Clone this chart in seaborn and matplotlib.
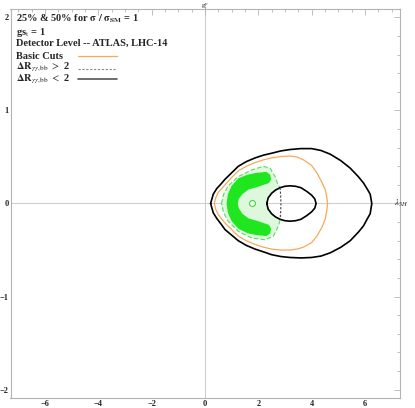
import numpy as np
import pandas as pd
import matplotlib.pyplot as plt
import seaborn as sns

# contour traces (lambda_3H on x, g on y)
outer_x = [0.21, 0.31, 0.44, 0.60, 0.75, 1.00, 1.25, 1.55, 1.88, 2.20, 2.50, 2.85, 3.19, 3.60, 4.00,
           4.35, 4.70, 5.10, 5.45, 5.75, 5.95, 6.10, 6.20, 6.26,
           6.20, 6.10, 5.95, 5.75, 5.45, 5.10, 4.70, 4.35, 4.00, 3.60, 3.19, 2.85, 2.50, 2.20,
           1.88, 1.55, 1.25, 1.00, 0.75, 0.60, 0.44, 0.31]
outer_y = [0.00, 0.10, 0.16, 0.21, 0.26, 0.33, 0.40, 0.45, 0.49, 0.52, 0.54, 0.565, 0.58, 0.59, 0.59,
           0.57, 0.53, 0.46, 0.38, 0.29, 0.22, 0.15, 0.10, 0.00,
           -0.11, -0.16, -0.24, -0.31, -0.40, -0.47, -0.53, -0.565, -0.58, -0.585, -0.58, -0.57,
           -0.55, -0.52, -0.49, -0.45, -0.40, -0.34, -0.28, -0.22, -0.16, -0.10]

basic_x = [0.35, 0.40, 0.50, 0.75, 1.00, 1.25, 1.55, 1.88, 2.20, 2.50, 2.85, 3.19, 3.45, 3.69, 4.00,
           4.20, 4.40, 4.51, 4.57, 4.60,
           4.57, 4.51, 4.40, 4.20, 4.00, 3.69, 3.45, 3.19, 2.85, 2.50, 2.20, 1.88, 1.55, 1.25,
           1.00, 0.75, 0.50, 0.40]
basic_y = [0.00, 0.06, 0.12, 0.20, 0.28, 0.35, 0.40, 0.44, 0.47, 0.49, 0.505, 0.51, 0.50, 0.47, 0.41,
           0.33, 0.22, 0.15, 0.07, 0.00,
           -0.08, -0.17, -0.25, -0.35, -0.42, -0.47, -0.49, -0.50, -0.50, -0.49, -0.47, -0.44,
           -0.40, -0.35, -0.28, -0.21, -0.12, -0.06]

inner_x = [2.32, 2.37, 2.50, 2.65, 2.82, 3.00, 3.19, 3.40, 3.60, 3.82, 4.00, 4.12, 4.17,
           4.12, 4.00, 3.82, 3.60, 3.40, 3.19, 3.00, 2.82, 2.65, 2.50, 2.37]
inner_y = [0.00, 0.06, 0.11, 0.145, 0.17, 0.185, 0.19, 0.185, 0.17, 0.13, 0.09, 0.05, 0.00,
           -0.05, -0.09, -0.13, -0.17, -0.185, -0.19, -0.185, -0.17, -0.145, -0.11, -0.06]

dr_gt2_x = [2.82, 2.84, 2.85, 2.84, 2.82]
dr_gt2_y = [0.17, 0.08, 0.00, -0.09, -0.17]

band50_x = [0.62, 0.70, 0.87, 1.25, 1.75, 2.19, 2.44, 2.63, 2.73, 2.82, 2.65, 2.50, 2.37, 2.32,
            2.37, 2.50, 2.65, 2.82,
            2.78, 2.69, 2.57, 2.25, 1.75, 1.25, 0.87, 0.70]
band50_y = [0.00, 0.10, 0.19, 0.29, 0.36, 0.40, 0.38, 0.29, 0.21, 0.17, 0.145, 0.11, 0.06, 0.00,
            -0.06, -0.11, -0.145, -0.17,
            -0.22, -0.28, -0.35, -0.39, -0.37, -0.30, -0.19, -0.10]

band25_x = [0.81, 0.86, 1.00, 1.25, 1.60, 1.95, 2.30, 2.45, 2.48, 2.40, 2.00, 1.63, 1.40, 1.27, 1.23,
            1.27, 1.40, 1.63, 2.00, 2.40, 2.48, 2.45, 2.30, 1.95, 1.60, 1.25, 1.00, 0.86]
band25_y = [0.00, 0.10, 0.19, 0.27, 0.31, 0.33, 0.34, 0.31, 0.26, 0.22, 0.18, 0.15, 0.10, 0.05, 0.00,
            -0.05, -0.11, -0.16, -0.19, -0.23, -0.27, -0.32, -0.35, -0.34, -0.32, -0.27, -0.19, -0.10]

hole_x = [1.76]
hole_y = [0.0]

x_ticks = [-6, -4, -2, 0, 2, 4, 6]
y_ticks = [-2, -1, 0, 1, 2]


def closed(xs, ys):
    return pd.DataFrame({"x": list(xs) + [xs[0]], "y": list(ys) + [ys[0]]})


sns.set_style("white")
plt.rcParams["font.family"] = ["Liberation Serif", "DejaVu Serif"]
plt.rcParams["mathtext.fontset"] = "stix"

fig = plt.figure(figsize=(4.15, 4.08), dpi=100)
ax = fig.add_axes([10.5 / 415, 10 / 408, 389 / 415, 389 / 408])

ORANGE = "#F6A95A"
frame_gray = "#B4B4B4"

ax.axhline(0, color="#CFCFCF", lw=0.8, zorder=0)
ax.axvline(0, color="#CFCFCF", lw=0.8, zorder=0)

# filled regions
ax.fill(band50_x, band50_y, facecolor="#DDF8DD", edgecolor="#5CDB5C", lw=0.8, ls=(0, (4, 2)), zorder=1)
ax.fill(band25_x, band25_y, facecolor="#1FE61F", edgecolor="none", zorder=2)
sns.scatterplot(x=hole_x, y=hole_y, ax=ax, s=18, color="white", edgecolor="#3BD83B", linewidth=0.8, zorder=3)

# contour lines
d = closed(outer_x, outer_y)
sns.lineplot(data=d, x="x", y="y", sort=False, estimator=None, ax=ax, color="black", lw=1.2, zorder=4)
d = closed(inner_x, inner_y)
sns.lineplot(data=d, x="x", y="y", sort=False, estimator=None, ax=ax, color="black", lw=1.2, zorder=4)
d = closed(basic_x, basic_y)
sns.lineplot(data=d, x="x", y="y", sort=False, estimator=None, ax=ax, color=ORANGE, lw=0.9, zorder=4)
sns.lineplot(x=dr_gt2_x, y=dr_gt2_y, sort=False, estimator=None, ax=ax, color="#444444", lw=0.8,
             ls=(0, (2, 1.5)), zorder=4)

ax.set_xlim(-7.3, 7.3)
ax.set_ylim(-2.09, 2.09)
ax.set_xlabel("")
ax.set_ylabel("")

ax.set_xticks(x_ticks)
ax.set_yticks(y_ticks)
ax.set_xticks(np.arange(-7, 7.5, 0.5), minor=True)
ax.set_yticks(np.arange(-2, 2.1, 0.2), minor=True)
ax.set_xticklabels([str(t).replace("-", "\u2212") for t in x_ticks], fontsize=6, fontweight="bold")
ax.set_yticklabels([str(t).replace("-", "\u2212") for t in y_ticks], fontsize=6, fontweight="bold")
ax.tick_params(which="both", direction="in", color=frame_gray, top=True, right=True,
               labeltop=False, labelright=False, width=0.6)
ax.tick_params(which="major", length=4, pad=1.5)
ax.tick_params(which="minor", length=2)
for s in ax.spines.values():
    s.set_color(frame_gray)
    s.set_linewidth(0.8)

# axis labels Mathematica-style
ax.text(0.0, 2.115, r"g$^{p}_{t}$", fontsize=5, ha="center", va="center", clip_on=False)
ax.text(7.08, 0.0, r"$\lambda_{3H}$", fontsize=6.5, ha="left", va="center", clip_on=False)

# header text + legend labels
tf = dict(transform=ax.transAxes, fontsize=7.5, fontweight="bold", ha="left", va="center")
ax.text(0.014, 0.975, r"25% & 50% for $\mathbf{\sigma\ /\ \sigma_{SM}}$ = 1", **tf)
ax.text(0.014, 0.939, r"gs$_{\mathrm{t}}$ = 1", **tf)
ax.text(0.014, 0.912, "Detector Level -- ATLAS, LHC-14", **tf)
ax.text(0.014, 0.877, "Basic Cuts", **tf)
ax.text(0.014, 0.849, r"$\mathbf{\Delta R}_{\gamma\gamma,\mathrm{bb}}$ $>$ 2", **tf)
ax.text(0.014, 0.819, r"$\mathbf{\Delta R}_{\gamma\gamma,\mathrm{bb}}$ $<$ 2", **tf)

# legend keys
ax.plot([0.174, 0.273], [0.878, 0.878], transform=ax.transAxes, color=ORANGE, lw=0.9)
ax.plot([0.174, 0.273], [0.847, 0.847], transform=ax.transAxes, color="#888888", lw=0.8, ls=(0, (2, 1.5)))
ax.plot([0.174, 0.273], [0.821, 0.821], transform=ax.transAxes, color="#555555", lw=1.2)

fig.savefig("out.png", dpi=100)
